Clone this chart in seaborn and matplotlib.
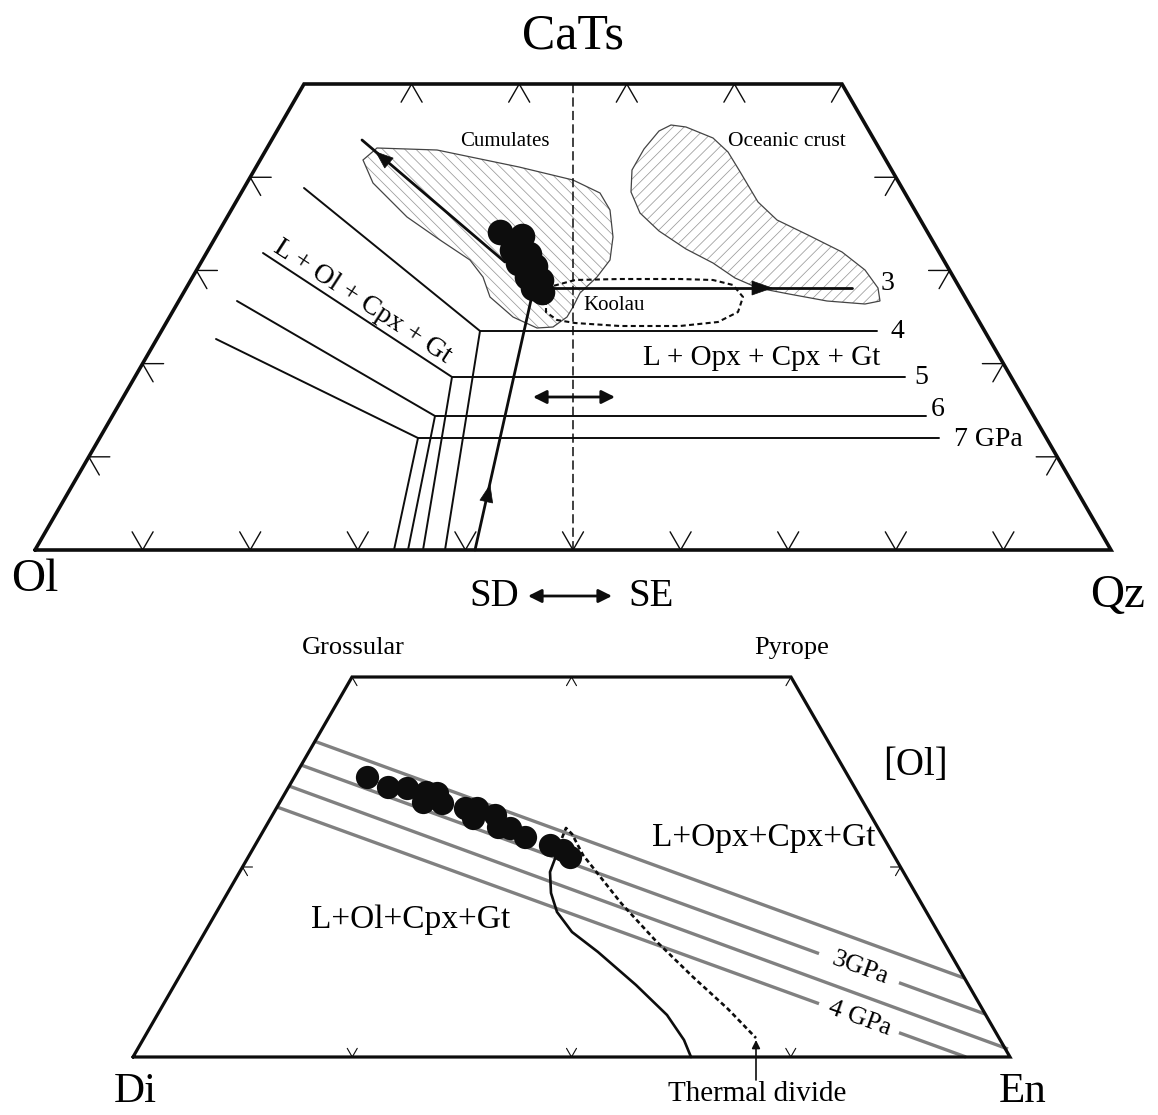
import numpy as np
import pandas as pd
import matplotlib
matplotlib.use("Agg")
import matplotlib.pyplot as plt
from matplotlib.patches import Polygon
import seaborn as sns

# ---------------- upper diagram: Ol - CaTs - Qz projection ----------------
top_frame_x = [35, 304, 842, 1111, 35]
top_frame_y = [550, 84, 84, 550, 550]

cumulates_x = [377, 437, 519, 573, 600, 610, 613, 610, 597, 580, 573, 567, 553, 537,
               513, 490, 483, 470, 440, 407, 373, 363]
cumulates_y = [148, 150, 167, 180, 193, 210, 237, 260, 277, 293, 307, 317, 327, 328,
               317, 297, 277, 260, 240, 217, 183, 160]

oceanic_x = [671, 686, 713, 728, 739, 758, 777, 808, 842, 865, 878, 880, 865, 827,
             789, 758, 735, 713, 686, 659, 640, 631, 632, 644, 659]
oceanic_y = [125, 127, 138, 152, 170, 202, 220, 235, 252, 270, 288, 301, 304, 301,
             294, 288, 278, 263, 249, 231, 213, 192, 170, 149, 131]

koolau_x = [546, 553, 575, 620, 680, 713, 733, 743, 738, 718, 680, 620, 575, 557, 546, 546]
koolau_y = [300, 286, 280, 279, 279, 280, 285, 297, 312, 322, 326, 326, 323, 320, 312, 300]

# cotectics: Ol-side segment start, bend, end of flat segment, foot on the Ol-Qz join
cotectic_labels = ["4", "5", "6", "7 GPa"]
cotectic_start_x = [304, 263, 237, 216]
cotectic_start_y = [188, 253, 301, 339]
cotectic_bend_x = [480, 452, 435, 418]
cotectic_bend_y = [331, 377, 416, 438]
cotectic_end_x = [877, 905, 926, 939]
cotectic_foot_x = [445, 423, 408, 394]
cotectic_label_x = [897, 921, 938, 988]
cotectic_label_y = [331, 377, 410, 440]

hawaii_x = [500, 522, 512, 529, 518, 535, 527, 541, 533, 542]
hawaii_y = [232, 236, 250, 254, 263, 266, 277, 280, 288, 292]

# ---------------- lower diagram: Di - Grossular - Pyrope - En ----------------
low_frame_x = [133, 352, 791, 1010, 133]
low_frame_y = [1057, 677, 677, 1057, 1057]

isobar_x0 = [314, 301, 289, 277]
isobar_y0 = [741, 765, 786, 807]
isobar_x1 = [964, 985, 1008, 966]
isobar_y1 = [978, 1014, 1049, 1057]
isobar_labels = [None, "3GPa", None, "4 GPa"]

low_dots_x = [367, 388, 407, 426, 423, 437, 442, 465, 477, 473, 495, 498, 510, 525, 550, 563, 570]
low_dots_y = [777, 787, 788, 792, 802, 793, 803, 808, 808, 818, 815, 827, 828, 837, 845, 850, 857]

path_x = [556, 550, 551, 557, 572, 598, 636, 667, 684, 691]
path_y = [856, 872, 893, 912, 932, 952, 985, 1015, 1040, 1057]

divide_x = [562, 566, 572, 583, 621, 655, 693, 728, 756]
divide_y = [838, 828, 834, 855, 903, 940, 977, 1009, 1038]

# ----------------------------------------------------------------------------
sns.set_theme(style="white")
plt.rcParams["font.family"] = ["Liberation Serif", "DejaVu Serif"]
plt.rcParams["text.color"] = "black"
plt.rcParams["hatch.linewidth"] = 0.55

fig = plt.figure(figsize=(11.58, 11.15), dpi=100)
ax = fig.add_axes([0, 0, 1, 1])
ax.set_xlim(0, 1158)
ax.set_ylim(1115, 0)
ax.axis("off")

K = "#0d0d0d"
UL = np.array([-0.5, -0.866]); UR = np.array([0.5, -0.866])
DL = np.array([-0.5, 0.866]); DR = np.array([0.5, 0.866])
RT = np.array([1.0, 0.0]); LT = np.array([-1.0, 0.0])


def chevron(p, d1, d2, L, lw):
    p = np.asarray(p, float)
    a, b = p + d1 * L, p + d2 * L
    ax.plot([a[0], p[0], b[0]], [a[1], p[1], b[1]], color=K, lw=lw, zorder=3,
            solid_joinstyle="miter")


def head(tip, direction, length=17, half=6.5):
    d = np.asarray(direction, float)
    d = d / np.hypot(*d)
    n = np.array([-d[1], d[0]])
    tip = np.asarray(tip, float)
    base = tip - d * length
    tri = np.array([tip, base + n * half, base - n * half])
    ax.add_patch(Polygon(tri, closed=True, facecolor=K, edgecolor=K, lw=0.5, zorder=6))


def field(xs, ys, hatch):
    pts = np.column_stack([xs, ys])
    ax.add_patch(Polygon(pts, closed=True, fill=False, hatch=hatch,
                         edgecolor="#9a9a9a", lw=0, zorder=1))
    ax.add_patch(Polygon(pts, closed=True, fill=False, edgecolor="#444444",
                         lw=0.9, zorder=2))


# ---- upper diagram ----
field(cumulates_x, cumulates_y, "\\\\\\")
field(oceanic_x, oceanic_y, "///")
ax.plot(top_frame_x, top_frame_y, color=K, lw=2.6, zorder=4, solid_joinstyle="miter")

# ternary ticks every 10 %
side = top_frame_x[3] - top_frame_x[0]
h_step = side * 0.866 / 10
for k in range(1, 10):
    chevron((top_frame_x[0] + side * k / 10, top_frame_y[0]), UL, UR, 21, 1.0)
for k in range(1, 6):
    chevron((top_frame_x[1] + side * k / 10, top_frame_y[1]), DL, DR, 21, 1.0)
for k in range(1, 5):
    yk = top_frame_y[0] - h_step * k
    chevron((top_frame_x[0] + 0.5 * h_step * k / 0.866, yk), RT, DR, 21, 1.0)
    chevron((top_frame_x[3] - 0.5 * h_step * k / 0.866, yk), LT, DL, 21, 1.0)

# SD / SE divide
ax.plot([573, 573], [84, 550], color=K, lw=1.1, ls=(0, (6, 2.8)), zorder=3)

for i in range(4):
    ax.plot([cotectic_start_x[i], cotectic_bend_x[i], cotectic_end_x[i]],
            [cotectic_start_y[i], cotectic_bend_y[i], cotectic_bend_y[i]],
            color=K, lw=1.4, zorder=3)
    ax.plot([cotectic_bend_x[i], cotectic_foot_x[i]], [cotectic_bend_y[i], 550],
            color=K, lw=1.4, zorder=3)
    ax.text(cotectic_label_x[i], cotectic_label_y[i], cotectic_labels[i], fontsize=20,
            ha="center", va="center", zorder=7)

# Koolau field
ax.plot(koolau_x, koolau_y, color=K, lw=1.5, ls=(0, (2.4, 1.6)), zorder=3)

# liquid paths
ax.plot([475, 531], [550, 300], color=K, lw=2.0, zorder=5)
head((490, 485), (56, -250))
ax.plot([505, 362], [262, 140], color=K, lw=2.0, zorder=5)
head((376, 152), (-143, -122))
ax.plot([545, 852], [288, 288], color=K, lw=2.0, zorder=5)
head((772, 288), (1, 0), length=20, half=7)

sns.scatterplot(x=hawaii_x, y=hawaii_y, s=340, color=K, edgecolor=K, linewidth=0,
                ax=ax, zorder=8, legend=False)

ax.annotate("", xy=(533, 397), xytext=(615, 397),
            arrowprops=dict(arrowstyle="<|-|>", color=K, lw=2.0, mutation_scale=20,
                            shrinkA=0, shrinkB=0), zorder=6)
ax.annotate("", xy=(528, 596), xytext=(612, 596),
            arrowprops=dict(arrowstyle="<|-|>", color=K, lw=2.0, mutation_scale=20,
                            shrinkA=0, shrinkB=0), zorder=6)

ax.text(573, 36, "CaTs", fontsize=36, ha="center", va="center")
ax.text(35, 580, "Ol", fontsize=34, ha="center", va="center")
ax.text(1118, 596, "Qz", fontsize=34, ha="center", va="center")
ax.text(494, 597, "SD", fontsize=28, ha="center", va="center")
ax.text(651, 597, "SE", fontsize=28, ha="center", va="center")
ax.text(505, 142, "Cumulates", fontsize=15, ha="center", va="center")
ax.text(787, 142, "Oceanic crust", fontsize=15.5, ha="center", va="center")
ax.text(614, 305, "Koolau", fontsize=15, ha="center", va="center", zorder=7)
ax.text(888, 284, "3", fontsize=20, ha="center", va="center")
ax.text(362, 302, "L + Ol + Cpx + Gt", fontsize=20, ha="center", va="center",
        rotation=-33, rotation_mode="anchor")
ax.text(762, 358, "L + Opx + Cpx + Gt", fontsize=21, ha="center", va="center")

# ---- lower diagram ----
ax.plot(low_frame_x, low_frame_y, color=K, lw=2.3, zorder=4, solid_joinstyle="miter")
lx = np.array(low_frame_x, float)
ly = np.array(low_frame_y, float)
for f in (0.25, 0.5, 0.75):
    chevron((lx[0] + (lx[3] - lx[0]) * f, ly[0]), UL, UR, 10, 0.8)
for px in (lx[1], (lx[1] + lx[2]) / 2, lx[2]):
    chevron((px, ly[1]), DL, DR, 10, 0.8)
chevron(((lx[0] + lx[1]) / 2, (ly[0] + ly[1]) / 2), RT, DR, 10, 0.8)
chevron(((lx[2] + lx[3]) / 2, (ly[2] + ly[3]) / 2), LT, DL, 10, 0.8)

GRAY = "#808080"
for i in range(4):
    x0, y0, x1, y1 = isobar_x0[i], isobar_y0[i], isobar_x1[i], isobar_y1[i]
    m = (y1 - y0) / (x1 - x0)
    if isobar_labels[i] is None:
        ax.plot([x0, x1], [y0, y1], color=GRAY, lw=2.4, zorder=3, solid_capstyle="butt")
    else:
        ga, gb = 819, 899
        ax.plot([x0, ga], [y0, y0 + m * (ga - x0)], color=GRAY, lw=2.4, zorder=3,
                solid_capstyle="butt")
        ax.plot([gb, x1], [y0 + m * (gb - x0), y1], color=GRAY, lw=2.4, zorder=3,
                solid_capstyle="butt")
        xc = (ga + gb) / 2 + 1
        ax.text(xc, y0 + m * (xc - x0), isobar_labels[i], fontsize=19, ha="center",
                va="center", rotation=-np.degrees(np.arctan(m)), rotation_mode="anchor")

ax.plot(path_x, path_y, color=K, lw=1.9, zorder=3)
ax.plot(divide_x, divide_y, color=K, lw=1.9, ls=(0, (1.8, 1.2)), zorder=3)
ax.annotate("", xy=(756, 1040), xytext=(756, 1080),
            arrowprops=dict(arrowstyle="-|>", color=K, lw=1.2, mutation_scale=12,
                            shrinkA=0, shrinkB=0))

sns.scatterplot(x=low_dots_x, y=low_dots_y, s=280, color=K, edgecolor=K, linewidth=0,
                ax=ax, zorder=8, legend=False)

ax.text(353, 648, "Grossular", fontsize=19, ha="center", va="center")
ax.text(792, 648, "Pyrope", fontsize=19, ha="center", va="center")
ax.text(915, 765, "[Ol]", fontsize=28, ha="center", va="center")
ax.text(764, 838, "L+Opx+Cpx+Gt", fontsize=24, ha="center", va="center")
ax.text(411, 920, "L+Ol+Cpx+Gt", fontsize=24, ha="center", va="center")
ax.text(135, 1092, "Di", fontsize=31, ha="center", va="center")
ax.text(1023, 1092, "En", fontsize=31, ha="center", va="center")
ax.text(757, 1094, "Thermal divide", fontsize=21, ha="center", va="center")

fig.savefig("out.png", dpi=100, facecolor="white")
